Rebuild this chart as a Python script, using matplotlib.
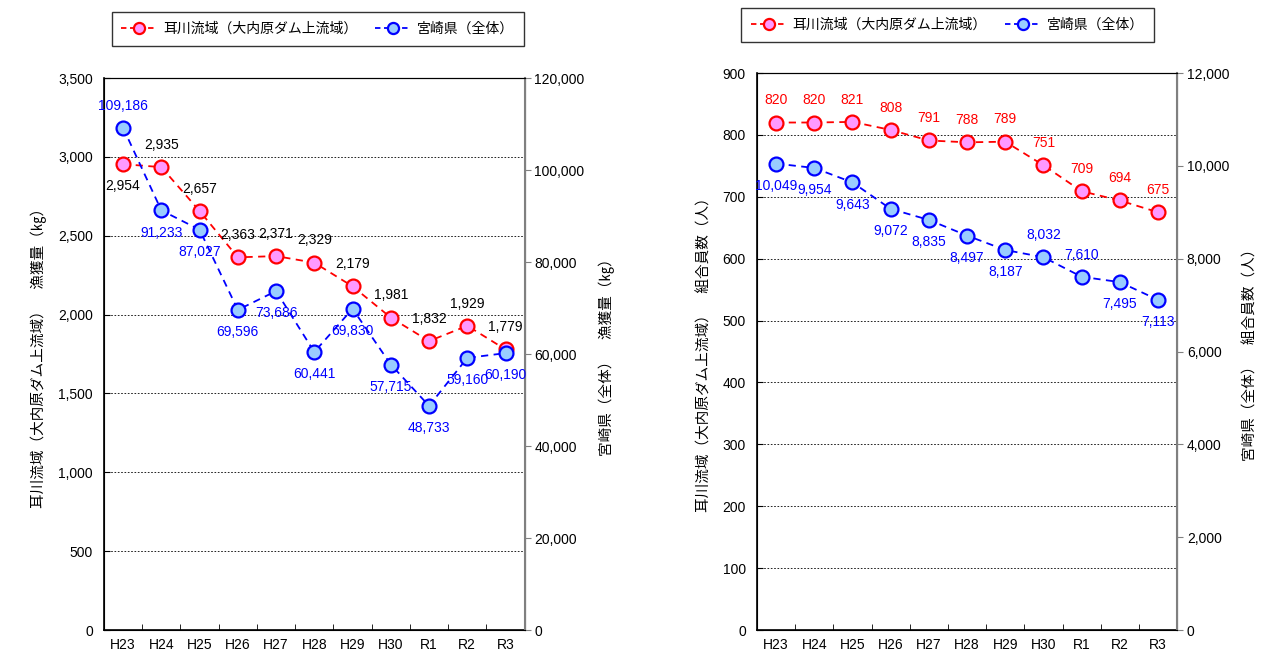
import numpy as np
import matplotlib.pyplot as plt
from matplotlib.lines import Line2D
from matplotlib.ticker import FuncFormatter, MultipleLocator

plt.rcParams['font.family'] = ['Liberation Sans', 'Noto Sans CJK JP', 'DejaVu Sans']

years = ['H23', 'H24', 'H25', 'H26', 'H27', 'H28', 'H29', 'H30', 'R1', 'R2', 'R3']

# catch (kg)
catch_mimi = [2954, 2935, 2657, 2363, 2371, 2329, 2179, 1981, 1832, 1929, 1779]
catch_pref = [109186, 91233, 87027, 69596, 73686, 60441, 69830, 57715, 48733, 59160, 60190]
# label side: 1 above, -1 below
catch_mimi_pos = [-1, 1, 1, 1, 1, 1, 1, 1, 1, 1, 1]
catch_pref_pos = [1, -1, -1, -1, -1, -1, -1, -1, -1, -1, -1]

# union members
members_mimi = [820, 820, 821, 808, 791, 788, 789, 751, 709, 694, 675]
members_pref = [10049, 9954, 9643, 9072, 8835, 8497, 8187, 8032, 7610, 7495, 7113]
members_mimi_pos = [1] * 11
members_pref_pos = [-1, -1, -1, -1, -1, -1, -1, 1, 1, -1, -1]

name_mimi = '耳川流域（大内原ダム上流域）'
name_pref = '宮崎県（全体）'

RED = '#ff0000'
PINK = '#ff99ff'
BLUE = '#0000ff'
LBLUE = '#99ccff'
comma = FuncFormatter(lambda v, p: f'{int(v):,}')
x = np.arange(len(years))


def draw(rect, left_vals, left_pos, left_lab_col, left_max, left_step,
         right_vals, right_pos, right_max, right_step, ylab_l, ylab_r):
    ax = fig.add_axes(rect)
    ax2 = ax.twinx()
    ax.plot(x, left_vals, ls='--', color=RED, lw=1.3, marker='o', ms=10,
            mfc=PINK, mec=RED, mew=1.6, dashes=(4, 3), zorder=3)
    ax2.plot(x, right_vals, ls='--', color=BLUE, lw=1.3, marker='o', ms=10,
             mfc=LBLUE, mec=BLUE, mew=1.6, dashes=(4, 3), zorder=3)
    for i, v in enumerate(left_vals):
        ax.annotate(f'{v:,}', (x[i], v), xytext=(0, 16 * left_pos[i]),
                    textcoords='offset points', ha='center', va='center',
                    fontsize=10, color=left_lab_col)
    for i, v in enumerate(right_vals):
        ax2.annotate(f'{v:,}', (x[i], v), xytext=(0, 16 * right_pos[i]),
                     textcoords='offset points', ha='center', va='center',
                     fontsize=10, color=BLUE)
    ax.set_xlim(-0.5, len(years) - 0.5)
    ax.set_ylim(0, left_max)
    ax2.set_ylim(0, right_max)
    ax.yaxis.set_major_locator(MultipleLocator(left_step))
    ax2.yaxis.set_major_locator(MultipleLocator(right_step))
    ax.yaxis.set_major_formatter(comma)
    ax2.yaxis.set_major_formatter(comma)
    ax.set_xticks(x)
    ax.set_xticklabels(years)
    ax.set_xticks(np.arange(-0.5, len(years)), minor=True)
    ax.tick_params(axis='x', which='major', length=0, labelsize=10, pad=6)
    ax.tick_params(axis='x', which='minor', direction='in', length=4)
    ax.tick_params(axis='y', direction='in', length=4, labelsize=10, pad=8)
    ax2.tick_params(axis='y', direction='out', length=4, labelsize=10,
                    color='#808080', pad=3)
    ax.grid(axis='y', color='black', ls=(0, (2, 2)), lw=0.6)
    for s in ['left', 'bottom']:
        ax.spines[s].set_linewidth(1.2)
    ax.spines['top'].set_linewidth(0.8)
    ax2.spines['right'].set_color('#808080')
    ax2.spines['right'].set_linewidth(1.5)
    ax.set_ylabel(ylab_l, fontsize=10.5, labelpad=8)
    ax2.set_ylabel(ylab_r, fontsize=10.5, labelpad=10)
    return ax


fig = plt.figure(figsize=(12.71, 6.53), dpi=100)

draw([0.0818, 0.0352, 0.331, 0.8453], catch_mimi, catch_mimi_pos, 'black', 3500, 500,
     catch_pref, catch_pref_pos, 120000, 20000,
     name_mimi + '　漁獲量（㎏）', name_pref + '　漁獲量（㎏）')
draw([0.5956, 0.0352, 0.3305, 0.853], members_mimi, members_mimi_pos, RED, 900, 100,
     members_pref, members_pref_pos, 12000, 2000,
     name_mimi + '　組合員数（人）', name_pref + '　組合員数（人）')

handles = [
    Line2D([], [], ls='--', color=RED, lw=1.3, marker='o', ms=8, mfc=PINK, mec=RED, mew=1.6, dashes=(3, 2)),
    Line2D([], [], ls='--', color=BLUE, lw=1.3, marker='o', ms=8, mfc=LBLUE, mec=BLUE, mew=1.6, dashes=(3, 2)),
]
for anchor in [(0.250, 0.9556), (0.7455, 0.9617)]:
    leg = fig.legend(handles, [name_mimi, name_pref], ncol=2, loc='center',
                     bbox_to_anchor=anchor, fontsize=10, frameon=True,
                     fancybox=False, edgecolor='black', handlelength=2.6,
                     handletextpad=0.4, columnspacing=1.3, borderpad=0.7)
    leg.get_frame().set_linewidth(1.0)

fig.savefig('out.png', dpi=100)
